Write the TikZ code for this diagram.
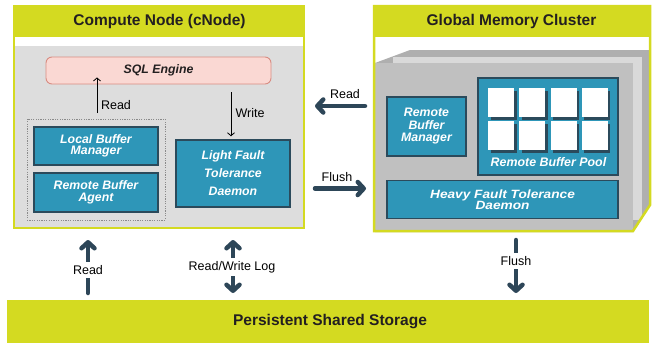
\documentclass[tikz,border=0pt]{standalone}
\usepackage{graphicx}
\usepackage{fontspec}
\setmainfont{Liberation Sans}
\usetikzlibrary{arrows.meta}
\definecolor{limec}{HTML}{D4DA21}
\definecolor{boxblue}{HTML}{2E96B8}
\definecolor{boxedge}{HTML}{2B4A5B}
\definecolor{arrowc}{HTML}{2D4658}
\definecolor{cngray}{HTML}{DDDDDD}
\definecolor{frontgray}{HTML}{C0C0C0}
\definecolor{panellight}{HTML}{D9D9D9}
\definecolor{paneldark}{HTML}{AFAFAF}
\definecolor{sqlfill}{HTML}{FAD8D3}
\definecolor{sqledge}{HTML}{D88C82}
\definecolor{titlec}{HTML}{231F20}
\definecolor{dashc}{HTML}{8A8A8A}
\begin{document}
\begin{tikzpicture}[x=1pt,y=-1pt,
  titletxt/.style={font=\fontsize{15.5}{18}\selectfont\bfseries, text=titlec, inner sep=0pt},
  bluebox/.style={draw=boxedge, line width=1.5pt, fill=boxblue, text=white,
    font=\fontsize{12.3}{11.5}\selectfont\bfseries\itshape, align=center, inner sep=0pt},
  lbl/.style={font=\fontsize{12.5}{14}\selectfont, text=black, inner sep=0pt},
  gaplbl/.style={font=\fontsize{12.5}{14}\selectfont, text=black, fill=white, inner xsep=1pt, inner ysep=3pt},
  thinarrow/.style={line width=0.8pt, -{Straight Barb[length=3pt,width=7pt]}},
  bigarrow/.style={arrowc, line width=4.5pt, line cap=round, -{Straight Barb[length=6pt,width=13pt,round]}},
  bigdouble/.style={arrowc, line width=4.5pt, line cap=round, {Straight Barb[length=6pt,width=13pt,round]}-{Straight Barb[length=6pt,width=13pt,round]}},
  sqbox/.style={fill=white, minimum width=26, minimum height=29, inner sep=0pt},
  sqshadow/.style={fill=boxedge, minimum width=26, minimum height=29, inner sep=0pt}
]
\useasboundingbox (0,0) rectangle (653,343);

% ---------------- Compute node frame ----------------
\fill[cngray] (14,46) rectangle (304,228);
\fill[limec] (13,5) rectangle (305,37);
\draw[limec, line width=2.5pt] (14,6) rectangle (304,228);
\node[titletxt] (cntitle) at (159.5,21) {Compute Node (cNode)};

\node[draw=sqledge, fill=sqlfill, rounded corners=6pt, line width=0.9pt,
      minimum width=225, minimum height=27, inner sep=0pt,
      font=\fontsize{12.3}{14}\selectfont\bfseries\itshape, text=titlec] (sql) at (158.5,70.5) {SQL Engine};

\node[draw=dashc, dash pattern=on 1.2pt off 1.2pt, line width=0.8pt,
      minimum width=138, minimum height=101, inner sep=0pt] (grp) at (96,169.5) {};
\node[bluebox, minimum width=124, minimum height=38] (lbm) at (96,146) {Local Buffer\\Manager};
\node[bluebox, minimum width=124, minimum height=39] (rba) at (96,192.5) {Remote Buffer\\Agent};
\node[bluebox, minimum width=114, minimum height=67,
      font=\fontsize{12.3}{18}\selectfont\bfseries\itshape] (lftd) at (233,173.5) {Light Fault\\Tolerance\\Daemon};

\coordinate (rdA) at (97,113);
\draw[thinarrow] (rdA) -- ([yshift=7pt]rdA |- sql.south);
\node[lbl] (rdlbl) at (116,105.5) {Read};
\draw[thinarrow] ([yshift=-8pt]sql.south -| 231,0) -- ([yshift=3pt]lftd.north -| 231,0);
\node[lbl] (wrlbl) at (250,113.5) {Write};

% ---------------- Global memory cluster ----------------
\fill[limec] (373,5) rectangle (651,37);
\fill[paneldark] (375,63) -- (410,50) -- (650,50) -- (650,205) -- (633,232) -- (375,232) -- cycle;
\fill[panellight] (393,57) rectangle (642,220);
\fill[frontgray] (375,63) rectangle (633,232);
\draw[limec, line width=2.5pt] (374,6) -- (650,6) -- (650,205) -- (633,231) -- (374,231) -- cycle;
\node[titletxt] (gmtitle) at (511.5,21) {Global Memory Cluster};

\node[bluebox, minimum width=79, minimum height=59,
      font=\fontsize{12.3}{12.5}\selectfont\bfseries\itshape] (rbm) at (426.5,126.5) {Remote\\Buffer\\Manager};
\node[bluebox, minimum width=140, minimum height=97] (pool) at (548,126.5) {};
\foreach \i in {0,1,2,3}{
  \foreach \j in {0,1}{
    \node[sqshadow] (sh\i\j) at ({488+31.3*\i+13+2.5},{88+33*\j+14.5+2.5}) {};
    \node[sqbox] (sq\i\j) at ({488+31.3*\i+13},{88+33*\j+14.5}) {};
  }
}
\node[text=white, font=\fontsize{12.4}{14}\selectfont\bfseries\itshape, inner sep=0pt] (pooltxt) at (548.5,162) {Remote Buffer Pool};
\node[bluebox, minimum width=231, minimum height=38,
      font=\fontsize{12}{11}\selectfont\bfseries\itshape] (hftd) at (502.5,199.5)
      {\scalebox{1.14}[1]{Heavy Fault Tolerance}\\\scalebox{1.14}[1]{Daemon}};

% ---------------- horizontal arrows ----------------
\coordinate (hrA) at (365,106);
\coordinate (hrB) at (315,106);
\draw[bigarrow] (hrA) -- (hrB);
\node[lbl] (hrlbl) at (345,94) {Read};
\coordinate (hfA) at (315,188.5);
\coordinate (hfB) at (366,188.5);
\draw[bigarrow] (hfA) -- (hfB);
\node[lbl] (hflbl) at (337,177) {Flush};

% ---------------- storage ----------------
\node[fill=limec, minimum width=642, minimum height=43, inner sep=0pt] (pss) at (328,321.5) {};
\node[titletxt] (psstxt) at (330,321.5) {Persistent Shared Storage};

\coordinate (b1A) at (88,293);
\coordinate (b1B) at (88,240);
\draw[bigarrow] (b1A) -- (b1B);
\node[gaplbl] (b1lbl) at (88,270) {Read};

\coordinate (b2A) at (233,293);
\coordinate (b2B) at (233,240);
\draw[bigdouble] (b2A) -- (b2B);
\node[gaplbl] (b2lbl) at (232,267) {Read/Write Log};

\coordinate (b3A) at (516,240);
\coordinate (b3B) at (516,293);
\draw[bigarrow] (b3A) -- (b3B);
\node[gaplbl] (b3lbl) at (516,261) {Flush};
\end{tikzpicture}
\end{document}
